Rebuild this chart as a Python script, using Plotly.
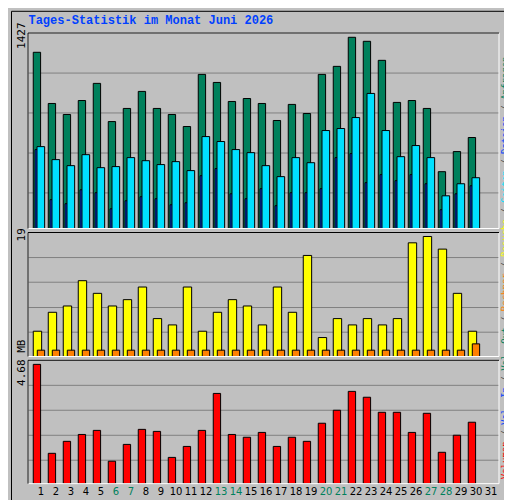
import plotly.graph_objects as go

days = list(range(1, 32))
shown = list(range(1, 31))

anfragen = [1315, 933, 851, 955, 1083, 798, 896, 1023, 896, 851, 761, 1150, 1090, 948, 970,
            933, 806, 926, 858, 1150, 1210, 1427, 1397, 1255, 941, 955, 896, 424, 574, 679]
dateien = [611, 514, 469, 551, 454, 462, 529, 506, 477, 499, 432, 686, 649, 589, 566,
           469, 387, 529, 491, 731, 746, 828, 1008, 731, 536, 619, 529, 244, 334, 379]
seiten = [589, 215, 185, 289, 267, 147, 207, 237, 222, 177, 192, 394, 447, 259, 222,
          297, 170, 267, 267, 297, 529, 559, 342, 402, 357, 402, 334, 140, 259, 319]
besuche = [4, 7, 8, 12, 10, 8, 9, 11, 6, 5, 11, 4, 7, 9, 8,
           5, 11, 7, 16, 3, 6, 5, 6, 5, 6, 18, 19, 17, 10, 4]
rechner = [1] * 29 + [2]
volumen_mb = [4.68, 1.19, 1.66, 1.93, 2.09, 0.88, 1.54, 2.13, 2.05, 1.03, 1.46, 2.09, 3.54, 1.93, 1.82,
              2.01, 1.46, 1.82, 1.66, 2.37, 2.88, 3.62, 3.39, 2.80, 2.80, 2.01, 2.76, 1.23, 1.90, 2.41]
weekend = [6, 7, 13, 14, 20, 21, 27, 28]

BG = '#c0c0c0'
fig = go.Figure()


def bars(y, color, offset, width, xa, ya):
    fig.add_trace(go.Bar(x=shown, y=y, offset=offset, width=width, xaxis=xa, yaxis=ya,
                         marker=dict(color=color, line=dict(color='black', width=1)),
                         showlegend=False, hoverinfo='skip'))


bars(anfragen, '#00805c', -0.25, 0.49, 'x', 'y')
bars(seiten, '#0040ff', -0.13, 0.15, 'x', 'y')
bars(dateien, '#00e0ff', 0.0, 0.51, 'x', 'y')
bars(besuche, '#ffff00', -0.25, 0.56, 'x2', 'y2')
bars(rechner, '#ff8000', 0.02, 0.49, 'x2', 'y2')
bars(volumen_mb, '#ff0000', -0.25, 0.49, 'x3', 'y3')

xr = [0.4, 31.8]
tick_text = [f"<span style='color:#00805c'>{d}</span>" if d in weekend else str(d) for d in days]
ax_common = dict(range=xr, showgrid=False, zeroline=False, showline=False, automargin=False)
yfont = dict(family='DejaVu Sans Mono', size=11, color='black')
y_common = dict(tickangle=-90, showgrid=False, zeroline=False, tickfont=yfont, ticks='',
                automargin=False, ticklabelstandoff=0)

fig.update_layout(
    width=512, height=500,
    paper_bgcolor=BG, plot_bgcolor=BG,
    margin=dict(l=20, r=21, t=25, b=23, autoexpand=False),
    barmode='overlay',
    xaxis=dict(**ax_common, anchor='y', showticklabels=False),
    xaxis2=dict(**ax_common, anchor='y2', showticklabels=False),
    xaxis3=dict(**ax_common, anchor='y3', tickvals=[d + 0.27 for d in days], ticktext=tick_text,
                ticks='', tickfont=dict(family='DejaVu Sans', size=10, color='black')),
    yaxis=dict(**y_common, domain=[0.5675, 1.0], range=[0, 1459], tickvals=[1427], ticktext=['1427']),
    yaxis2=dict(**y_common, domain=[0.2843, 0.5586], range=[0, 19.63], tickvals=[19], ticktext=['19']),
    yaxis3=dict(**y_common, domain=[0.003, 0.2759], range=[0, 4.84], tickvals=[4.68],
                ticktext=['4.68 MB']),
    title=dict(text='<b>Tages-Statistik im Monat Juni 2026</b>', x=0.04, xanchor='left',
               y=0.985, yanchor='top',
               font=dict(family='Liberation Mono', size=12, color='#0040ff')),
)

# gridlines and 3d frames
shapes = []
for yd, fr in [('y', [0.182, 0.386, 0.591, 0.795]),
               ('y2', [0.196, 0.395, 0.599, 0.798]),
               ('y3', [0.19, 0.392, 0.595, 0.797])]:
    for f in fr:
        shapes.append(dict(type='line', xref='x domain', yref=f'{yd} domain', x0=0, x1=1, y0=f, y1=f,
                           line=dict(color='#808080', width=1), layer='below'))
for yd in ['y', 'y2', 'y3']:
    shapes.append(dict(type='rect', xref='x domain', yref=f'{yd} domain', x0=0, x1=1, y0=0, y1=1,
                       line=dict(color='white', width=1)))
    shapes.append(dict(type='path', xref='x domain', yref=f'{yd} domain',
                       path='M 0 0 L 0 1 L 1 1', line=dict(color='black', width=1)))
shapes.append(dict(type='rect', xref='paper', yref='paper', x0=-0.035, x1=1.038, y0=-0.043, y1=1.048,
                   line=dict(color='black', width=1)))
fig.update_layout(shapes=shapes)

legend = ("<span style='color:#ff0000'>Volumen</span> / "
          "<span style='color:#0040ff'>Vol. In</span> / "
          "<span style='color:#00805c'>Vol. Out</span> / "
          "<span style='color:#ff8000'>Rechner</span> / "
          "<span style='color:#ffff00'>Besuche</span> / "
          "<span style='color:#00e0ff'>Seiten</span> / "
          "<span style='color:#0040ff'>Dateien</span> / "
          "<span style='color:#00805c'>Anfragen</span>")
fig.add_annotation(text=legend, xref='paper', yref='paper', x=1.028, y=0.48, textangle=-90,
                   showarrow=False, font=dict(family='DejaVu Sans Mono', size=9, color='#404040'))

fig.write_html("out.html")
